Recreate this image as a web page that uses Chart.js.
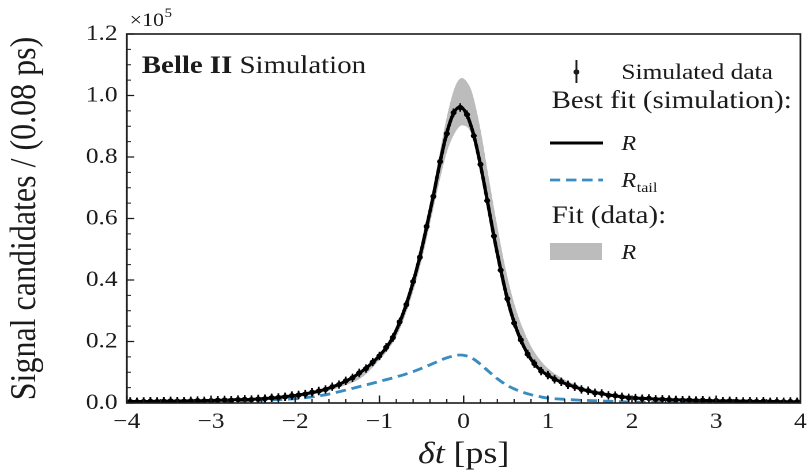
<!DOCTYPE html>
<html><head><meta charset="utf-8">
<script src="https://cdn.jsdelivr.net/npm/chart.js@4.4.1/dist/chart.umd.min.js"></script>
<style>
html,body{margin:0;padding:0;background:#fff;overflow:hidden;}
canvas{display:block;}
</style></head><body>
<canvas id="c" width="700" height="476" style="width:807px;height:476px;"></canvas>
<script>
// ---- data (values in units of 10^5) ----
const binCenters = [-3.96,-3.88,-3.80,-3.72,-3.64,-3.56,-3.48,-3.40,-3.32,-3.24,
 -3.16,-3.08,-3.00,-2.92,-2.84,-2.76,-2.68,-2.60,-2.52,-2.44,
 -2.36,-2.28,-2.20,-2.12,-2.04,-1.96,-1.88,-1.80,-1.72,-1.64,
 -1.56,-1.48,-1.40,-1.32,-1.24,-1.16,-1.08,-1.00,-0.92,-0.84,
 -0.76,-0.68,-0.60,-0.52,-0.44,-0.36,-0.28,-0.20,-0.12,-0.04,
 0.04,0.12,0.20,0.28,0.36,0.44,0.52,0.60,0.68,0.76,
 0.84,0.92,1.00,1.08,1.16,1.24,1.32,1.40,1.48,1.56,
 1.64,1.72,1.80,1.88,1.96,2.04,2.12,2.20,2.28,2.36,
 2.44,2.52,2.60,2.68,2.76,2.84,2.92,3.00,3.08,3.16,
 3.24,3.32,3.40,3.48,3.56,3.64,3.72,3.80,3.88,3.96];

const fitR = [0.005,0.005,0.005,0.005,0.006,0.006,0.006,0.006,0.007,0.007,
 0.007,0.008,0.008,0.009,0.009,0.010,0.011,0.011,0.012,0.013,
 0.015,0.016,0.018,0.021,0.023,0.026,0.030,0.034,0.039,0.045,
 0.052,0.061,0.071,0.083,0.097,0.113,0.132,0.154,0.180,0.214,
 0.262,0.322,0.393,0.476,0.572,0.674,0.783,0.878,0.942,0.963,
 0.936,0.871,0.774,0.660,0.541,0.434,0.337,0.262,0.204,0.160,
 0.127,0.105,0.090,0.078,0.068,0.060,0.052,0.045,0.039,0.034,
 0.030,0.026,0.023,0.020,0.018,0.016,0.015,0.014,0.013,0.012,
 0.011,0.010,0.010,0.009,0.009,0.008,0.008,0.007,0.007,0.007,
 0.006,0.006,0.006,0.005,0.005,0.005,0.005,0.004,0.004,0.004];

const simData = [0.005,0.004,0.005,0.006,0.005,0.006,0.007,0.006,0.006,0.007,
 0.008,0.007,0.008,0.009,0.010,0.009,0.011,0.012,0.011,0.013,
 0.014,0.017,0.018,0.020,0.024,0.026,0.029,0.035,0.039,0.044,
 0.053,0.060,0.072,0.082,0.098,0.112,0.133,0.153,0.181,0.213,
 0.264,0.320,0.395,0.474,0.574,0.672,0.785,0.876,0.944,0.961,
 0.938,0.869,0.776,0.658,0.543,0.432,0.339,0.260,0.205,0.159,
 0.128,0.104,0.091,0.077,0.069,0.059,0.053,0.044,0.040,0.033,
 0.031,0.025,0.024,0.020,0.017,0.016,0.014,0.015,0.012,0.012,
 0.011,0.010,0.009,0.010,0.008,0.009,0.007,0.008,0.006,0.007,
 0.006,0.005,0.006,0.005,0.006,0.004,0.005,0.004,0.005,0.004];

const tailX = [-4.0,-3.5,-3.0,-2.5,-2.2,-2.0,-1.8,-1.6,-1.4,-1.2,-1.0,-0.8,-0.6,-0.4,-0.3,-0.2,-0.12,-0.05,0.02,0.1,0.2,0.3,0.4,0.5,0.6,0.7,0.8,0.9,1.0,1.2,1.4,1.6,1.8,2.0,2.5,3.0,3.5,4.0];
const tailY = [0.001,0.002,0.004,0.008,0.011,0.014,0.020,0.029,0.042,0.056,0.070,0.085,0.102,0.124,0.136,0.147,0.153,0.156,0.154,0.146,0.126,0.102,0.079,0.060,0.046,0.035,0.027,0.021,0.016,0.012,0.009,0.007,0.005,0.003,0.001,0.0005,0.0002,0.0001];

const bandX  = [-4.0,-3.0,-2.5,-2.0,-1.6,-1.4,-1.2,-1.0,-0.9,-0.8,-0.7,-0.6,-0.5,-0.4,-0.3,-0.2,-0.1,-0.02,0.05,0.1,0.2,0.3,0.4,0.5,0.6,0.7,0.8,0.9,1.0,1.2,1.4,1.6,2.0,2.5,3.0,4.0];
const bandHi = [0.006,0.009,0.013,0.026,0.050,0.068,0.098,0.158,0.195,0.245,0.315,0.405,0.515,0.645,0.790,0.930,1.030,1.057,1.040,1.010,0.890,0.730,0.575,0.435,0.325,0.245,0.185,0.143,0.113,0.076,0.053,0.039,0.022,0.013,0.009,0.006];
const bandLo = [0.003,0.006,0.009,0.018,0.040,0.058,0.085,0.140,0.172,0.215,0.280,0.362,0.462,0.582,0.705,0.815,0.880,0.903,0.895,0.870,0.765,0.625,0.490,0.370,0.270,0.205,0.152,0.115,0.090,0.062,0.043,0.031,0.016,0.009,0.006,0.003];

const xTicks = [-4,-3,-2,-1,0,1,2,3,4];
const yTicks = [0.0,0.2,0.4,0.6,0.8,1.0,1.2];

const pts = (xs, ys) => xs.map((v, i) => ({x: v, y: ys[i]}));
const SERIF = '"Liberation Serif", "Times New Roman", serif';
const INK = '#1b1b1b';
const BLUE = '#3a8cc1';

const overlay = {
  id: 'overlay',
  afterDatasetsDraw(chart) {
    const {ctx, chartArea: a, scales: {x, y}} = chart;
    ctx.save();
    ctx.strokeStyle = INK;
    // minor ticks
    ctx.lineWidth = 1.1;
    ctx.beginPath();
    for (let k = 0; k <= 40; k++) {
      if (k % 5 === 0) continue;
      const px = x.getPixelForValue(-4 + k * 0.2);
      ctx.moveTo(px, a.bottom); ctx.lineTo(px, a.bottom - 4);
    }
    for (let k = 0; k <= 24; k++) {
      if (k % 4 === 0) continue;
      const py = y.getPixelForValue(k * 0.05);
      ctx.moveTo(a.left, py); ctx.lineTo(a.left + 3.5, py);
    }
    ctx.stroke();
    // major ticks
    ctx.lineWidth = 1.3;
    ctx.beginPath();
    xTicks.forEach(v => { const px = x.getPixelForValue(v); ctx.moveTo(px, a.bottom); ctx.lineTo(px, a.bottom - 7.5); });
    yTicks.forEach(v => { const py = y.getPixelForValue(v); ctx.moveTo(a.left, py); ctx.lineTo(a.left + 6.5, py); });
    ctx.stroke();
    // frame
    ctx.lineWidth = 1.6;
    ctx.strokeRect(a.left, a.top, a.right - a.left, a.bottom - a.top);

    ctx.fillStyle = INK;
    ctx.textBaseline = 'alphabetic';
    ctx.textAlign = 'left';
    // exponent
    ctx.font = '19px ' + SERIF;
    ctx.fillText('\u00d710', 112.5, 26);
    const w10 = ctx.measureText('\u00d710').width;
    ctx.font = '13px ' + SERIF;
    ctx.fillText('5', 112.5 + w10 + 0.5, 17);

    // Belle II Simulation
    ctx.font = 'bold 25px ' + SERIF;
    ctx.fillText('Belle II', 123, 73);
    const wb = ctx.measureText('Belle II ').width;
    ctx.font = '25px ' + SERIF;
    ctx.fillText('Simulation', 123 + wb, 73);

    // legend
    ctx.lineWidth = 1.6;
    ctx.beginPath(); ctx.moveTo(500, 60); ctx.lineTo(500, 83); ctx.stroke();
    ctx.beginPath(); ctx.arc(500, 72, 2.6, 0, Math.PI * 2); ctx.fill();
    ctx.font = '22px ' + SERIF;
    ctx.fillText('Simulated data', 539, 79);
    ctx.font = '25px ' + SERIF;
    ctx.fillText('Best fit (simulation):', 478.5, 108);
    ctx.strokeStyle = '#000'; ctx.lineWidth = 3;
    ctx.beginPath(); ctx.moveTo(477, 143); ctx.lineTo(523, 143); ctx.stroke();
    ctx.font = 'italic 21px ' + SERIF;
    ctx.fillText('R', 539, 150);
    ctx.strokeStyle = BLUE; ctx.lineWidth = 2.8;
    ctx.setLineDash([9, 5]);
    ctx.beginPath(); ctx.moveTo(477, 180); ctx.lineTo(523, 180); ctx.stroke();
    ctx.setLineDash([]);
    ctx.fillText('R', 539, 187);
    const wr = ctx.measureText('R').width;
    ctx.font = '14px ' + SERIF;
    ctx.fillText('tail', 539 + wr + 0.5, 192);
    ctx.font = '25px ' + SERIF;
    ctx.fillText('Fit (data):', 478.5, 223);
    ctx.fillStyle = '#bcbcbc';
    ctx.fillRect(477, 243, 45, 17);
    ctx.fillStyle = INK;
    ctx.font = 'italic 21px ' + SERIF;
    ctx.fillText('R', 539, 259);

    // x title
    ctx.font = 'italic 31px ' + SERIF;
    const t1 = '\u03b4t';
    const w1 = ctx.measureText(t1).width;
    ctx.font = '31px ' + SERIF;
    const t2 = ' [ps]';
    const w2 = ctx.measureText(t2).width;
    const cx = (a.left + a.right) / 2 - (w1 + w2) / 2;
    ctx.font = 'italic 31px ' + SERIF;
    ctx.fillText(t1, cx, 463);
    ctx.font = '31px ' + SERIF;
    ctx.fillText(t2, cx + w1, 463);

    // y title
    ctx.save();
    ctx.translate(22, (a.top + a.bottom) / 2);
    ctx.rotate(-Math.PI / 2);
    ctx.textAlign = 'center';
    ctx.textBaseline = 'middle';
    ctx.font = '32px ' + SERIF;
    ctx.fillText('Signal candidates / (0.08 ps)', 0, 0);
    ctx.restore();

    ctx.restore();
  }
};

new Chart(document.getElementById('c'), {
  type: 'line',
  data: {
    datasets: [
      { label: 'band hi', data: pts(bandX, bandHi), borderWidth: 0, pointRadius: 0,
        backgroundColor: '#bcbcbc', fill: '+1', cubicInterpolationMode: 'monotone', order: 6 },
      { label: 'band lo', data: pts(bandX, bandLo), borderWidth: 0, pointRadius: 0,
        backgroundColor: '#bcbcbc', fill: false, cubicInterpolationMode: 'monotone', order: 5 },
      { label: 'R tail', data: pts(tailX, tailY), borderColor: BLUE, borderWidth: 2.8,
        borderDash: [9, 5], pointRadius: 0, fill: false, cubicInterpolationMode: 'monotone', order: 4 },
      { label: 'R', data: pts(binCenters, fitR), borderColor: '#000', borderWidth: 3,
        pointRadius: 0, fill: false, cubicInterpolationMode: 'monotone', order: 3 },
      { label: 'Simulated data bars', data: pts(binCenters, simData), showLine: false,
        pointStyle: 'line', rotation: 90, pointRadius: 4.2, borderColor: '#000', borderWidth: 1.5,
        backgroundColor: '#000', order: 2 },
      { label: 'Simulated data', data: pts(binCenters, simData), showLine: false,
        pointStyle: 'circle', pointRadius: 2.6, borderWidth: 0, backgroundColor: '#000', order: 1 }
    ]
  },
  options: {
    responsive: false,
    devicePixelRatio: 2,
    animation: false,
    events: [],
    layout: { padding: { top: 34, right: 2, left: 0, bottom: 0 } },
    plugins: { legend: { display: false }, tooltip: { enabled: false }, title: { display: false } },
    scales: {
      x: {
        type: 'linear', min: -4, max: 4,
        grid: { display: false, drawTicks: false }, border: { display: false },
        ticks: { stepSize: 1, padding: 6, color: INK, font: { family: SERIF, size: 22 },
          maxRotation: 0, autoSkip: false,
          callback: v => (v < 0 ? '\u2212' + Math.abs(v) : String(v)) },
        afterFit: s => { s.height = 73; s.paddingLeft = 0; s.paddingRight = 0; }
      },
      y: {
        type: 'linear', min: 0, max: 1.2,
        grid: { display: false, drawTicks: false }, border: { display: false },
        ticks: { stepSize: 0.2, padding: 8, color: INK, font: { family: SERIF, size: 22 },
          callback: v => Number(v).toFixed(1) },
        afterFit: s => { s.width = 110; s.paddingTop = 0; s.paddingBottom = 0; }
      }
    }
  },
  plugins: [overlay]
});
</script>
</body></html>
